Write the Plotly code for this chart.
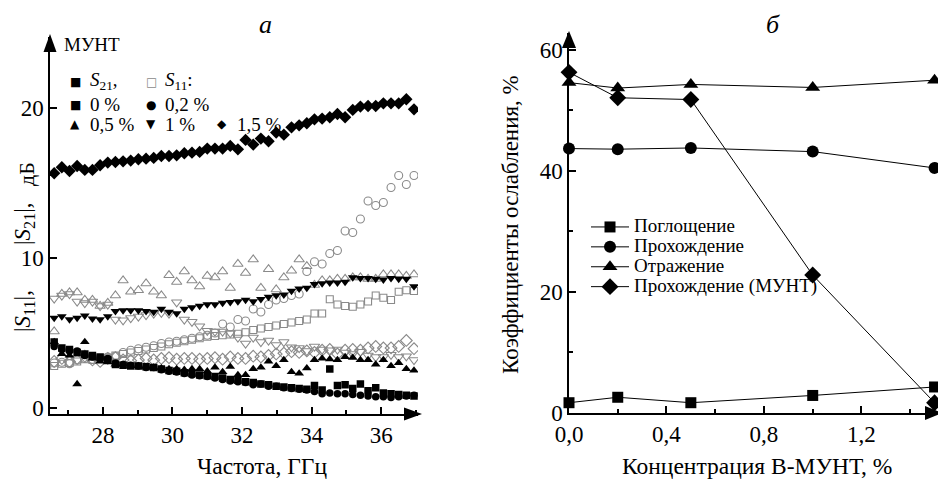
import plotly.graph_objects as go

W, H = 938, 481
FONT = "Liberation Serif"

# ---------------- panel (a): |S11|, |S21| vs frequency ----------------
freq_ghz = [26.60, 26.82, 27.04, 27.26, 27.48, 27.70, 27.92, 28.14, 28.36, 28.58,
            28.80, 29.02, 29.24, 29.46, 29.68, 29.90, 30.12, 30.34, 30.56, 30.78,
            31.00, 31.22, 31.44, 31.66, 31.88, 32.10, 32.32, 32.54, 32.76, 32.98,
            33.20, 33.42, 33.64, 33.86, 34.08, 34.30, 34.52, 34.74, 34.96, 35.18,
            35.40, 35.62, 35.84, 36.06, 36.28, 36.50, 36.72, 36.94]

s21_0 = [4.4, 4.0, 3.9, 3.7, 3.6, 3.5, 3.4, 3.2, 2.9, 2.85,
         2.8, 2.8, 2.75, 2.7, 2.6, 2.5, 2.45, 2.35, 2.3, 2.2,
         2.15, 2.1, 2.0, 1.9, 1.85, 1.75, 1.7, 1.6, 1.55, 1.45,
         1.4, 1.35, 1.3, 1.25, 1.5, 1.2, 2.6, 1.5, 1.55, 1.3,
         1.6, 1.15, 1.35, 1.0, 0.95, 0.9, 0.85, 0.8]
s21_02 = [4.1, 3.9, 3.8, 3.8, 3.5, 3.4, 3.3, 3.3, 3.0, 2.9,
          2.85, 2.8, 2.7, 2.7, 2.55, 2.45, 2.4, 2.3, 2.2, 2.15,
          2.1, 2.0, 1.9, 1.8, 1.75, 1.7, 1.55, 1.6, 1.45, 1.45,
          1.35, 1.3, 1.25, 1.2, 1.1, 0.95, 1.0, 0.95, 0.95, 0.9,
          0.85, 0.8, 0.75, 0.75, 0.7, 0.75, 0.8, 0.85]
s21_05 = [4.4, 3.6, 3.5, 1.6, 4.4, 3.3, 3.1, 3.05, 2.9, 2.9,
          2.8, 2.8, 2.75, 2.7, 2.65, 2.6, 2.6, 2.55, 2.6, 2.6,
          2.45, 2.7, 2.4, 2.75, 2.2, 2.2, 2.6, 2.7, 3.1, 2.8,
          3.2, 2.4, 2.3, 2.65, 3.2, 3.3, 3.25, 3.2, 3.4, 3.35,
          3.2, 3.2, 2.9, 3.2, 2.8, 3.0, 2.6, 2.5]
s21_1 = [6.0, 6.1, 5.9, 6.0, 6.15, 5.95, 5.9, 6.1, 6.45, 6.5,
         6.5, 6.5, 6.45, 6.4, 6.6, 6.4, 6.3, 6.6, 6.7, 6.8,
         6.9, 6.9, 7.0, 7.05, 7.1, 7.2, 7.1, 7.25, 7.4, 7.5,
         7.55, 7.8, 7.95, 8.0, 8.25, 8.3, 8.35, 8.35, 8.4, 8.7,
         8.65, 8.65, 8.6, 8.55, 8.65, 8.6, 8.6, 8.1]
s21_15 = [15.65, 16.05, 15.8, 16.13, 15.87, 15.87, 16.18, 16.36, 16.4, 16.44,
          16.49, 16.58, 16.62, 16.67, 16.8, 16.8, 16.84, 16.98, 17.02, 17.07,
          17.29, 17.29, 17.29, 17.47, 17.24, 17.87, 17.56, 17.96, 17.78, 18.36,
          18.22, 18.71, 18.84, 18.98, 19.24, 19.29, 19.38, 19.6, 19.38, 19.87,
          20.09, 20.13, 20.13, 20.31, 20.31, 20.31, 20.58, 19.91]

s11_0 = [2.8, 2.95, 3.0, 3.1, 3.25, 3.2, 3.3, 3.35, 3.5, 3.6,
         3.7, 3.8, 3.9, 4.0, 4.1, 4.25, 4.35, 4.45, 4.55, 4.65,
         4.75, 4.8, 4.85, 4.9, 4.95, 5.05, 5.2, 5.3, 5.4, 5.5,
         5.6, 5.7, 5.8, 5.9, 6.3, 6.3, 7.25, 6.9, 6.8, 6.75,
         6.9, 7.1, 7.5, 7.35, 7.2, 7.75, 7.85, 7.8]
s11_02 = [3.0, 3.05, 2.95, 3.2, 3.3, 3.25, 3.3, 3.4, 3.45, 3.7,
          3.85, 3.95, 4.05, 4.15, 4.3, 4.4, 4.45, 4.55, 4.65, 4.75,
          4.85, 5.0, 5.6, 5.4, 5.9, 5.8, 6.6, 6.4, 6.9, 7.2,
          7.3, 7.5, 7.6, 9.1, 9.75, 9.6, 10.3, 10.5, 11.8, 11.7,
          12.6, 13.8, 13.5, 13.7, 14.7, 15.5, 14.9, 15.5]
s11_05 = [5.1, 7.6, 7.7, 7.7, 7.2, 7.2, 6.8, 7.0, 7.5, 8.5,
          7.75, 7.85, 8.3, 7.75, 7.5, 8.85, 8.4, 9.1, 8.5, 8.1,
          8.8, 8.7, 9.1, 8.0, 9.6, 9.0, 9.9, 8.0, 9.25, 7.9,
          8.7, 9.15, 9.9, 9.45, 8.2, 8.5, 8.5, 8.6, 8.6, 8.7,
          8.7, 8.6, 8.6, 8.9, 8.9, 8.9, 8.8, 8.9]
s11_1 = [7.3, 7.5, 7.6, 7.1, 7.0, 7.1, 6.8, 6.9, 5.9, 5.85,
         6.0, 6.1, 6.2, 6.3, 6.35, 6.3, 7.05, 5.9, 5.75, 5.45,
         5.15, 5.1, 5.1, 5.0, 4.7, 4.3, 4.7, 4.4, 4.5, 4.2,
         4.4, 4.05, 4.0, 3.8, 4.1, 3.9, 3.85, 3.9, 3.7, 3.6,
         3.75, 3.5, 3.4, 3.4, 3.55, 3.4, 3.45, 3.2]
s11_15 = [3.1, 3.3, 3.1, 3.3, 3.45, 3.2, 3.1, 3.3, 3.35, 3.2,
          3.15, 3.2, 3.3, 3.2, 3.3, 3.35, 3.25, 3.3, 3.3, 3.25,
          3.3, 3.35, 3.25, 3.4, 3.3, 3.3, 3.45, 3.4, 3.5, 3.6,
          3.65, 3.75, 3.7, 3.8, 3.7, 3.85, 3.9, 3.6, 3.85, 3.9,
          3.85, 4.0, 4.1, 4.0, 4.0, 4.1, 4.5, 3.95]

# ---------------- panel (б): attenuation coefficients ----------------
conc_pct = [0.0, 0.2, 0.5, 1.0, 1.5]
absorption = [1.7, 2.6, 1.7, 2.9, 4.3]
transmission = [43.7, 43.6, 43.8, 43.2, 40.5]
reflection = [54.6, 53.7, 54.3, 53.8, 55.0]
transmission_munt = [56.3, 52.1, 51.8, 22.8, 1.7]
right_names = ["Поглощение", "Прохождение", "Отражение", "Прохождение (МУНТ)"]


def PX(x):
    return x / W


def PY(y):
    return 1 - y / H


GRAY = "#8a8a8a"
fig = go.Figure()

open_series = [(s11_0, "square-open", 7), (s11_02, "circle-open", 8),
               (s11_05, "triangle-up-open", 9), (s11_1, "triangle-down-open", 9),
               (s11_15, "diamond-open", 9)]
for ys, sym, sz in open_series:
    fig.add_trace(go.Scatter(x=freq_ghz, y=ys, mode="markers", showlegend=False,
                             marker=dict(symbol=sym, size=sz, color=GRAY,
                                         line=dict(width=1.1, color=GRAY)),
                             xaxis="x", yaxis="y"))

filled_series = [(s21_0, "square", 7.5), (s21_02, "circle", 7.5), (s21_05, "triangle-up", 8.5),
                 (s21_1, "triangle-down", 8.5), (s21_15, "diamond", 9.5)]
for ys, sym, sz in filled_series:
    fig.add_trace(go.Scatter(x=freq_ghz, y=ys, mode="markers", showlegend=False,
                             marker=dict(symbol=sym, size=sz, color="black",
                                         line=dict(width=0)),
                             xaxis="x", yaxis="y"))

right_series = [(absorption, "square", 11), (transmission, "circle", 12),
                (reflection, "triangle-up", 13), (transmission_munt, "diamond", 13)]
for (ys, sym, sz), name in zip(right_series, right_names):
    fig.add_trace(go.Scatter(x=conc_pct, y=ys, mode="lines+markers",
                             name="<span style='font-size:19px'>" + name + "</span>",
                             line=dict(color="black", width=1),
                             marker=dict(symbol=sym, size=sz, color="black"),
                             xaxis="x2", yaxis="y2", cliponaxis=False))

axis_common = dict(showline=True, linecolor="black", linewidth=1.5, ticks="inside",
                   tickcolor="black", tickwidth=1.5, showgrid=False, zeroline=False,
                   automargin=False, tickfont=dict(family=FONT, size=23, color="black"))

fig.update_layout(
    width=W, height=H, margin=dict(l=0, r=0, t=0, b=0),
    paper_bgcolor="white", plot_bgcolor="white", separators=", ",
    font=dict(family=FONT, color="black"),
    xaxis=dict(domain=[PX(50), PX(418)], range=[26.48, 37.055], anchor="y",
               tick0=28, dtick=2, ticklen=7,
               minor=dict(dtick=1, tick0=27, ticks="inside", ticklen=4,
                          tickcolor="black", tickwidth=1.5),
               **axis_common),
    yaxis=dict(domain=[PY(414), PY(37)], range=[-0.4, 24.73], anchor="x",
               tick0=0, dtick=10, ticklen=7, **axis_common),
    xaxis2=dict(domain=[PX(569), PX(937)], range=[0, 1.51], anchor="y2",
                tick0=0, dtick=0.4, tickformat=".1f", ticklen=7,
                minor=dict(dtick=0.2, tick0=0, ticks="inside", ticklen=4,
                           tickcolor="black", tickwidth=1.5),
                **axis_common),
    yaxis2=dict(domain=[PY(413), PY(33)], range=[0, 62.8], anchor="x2",
                tick0=0, dtick=20, ticklen=7,
                minor=dict(dtick=10, tick0=0, ticks="inside", ticklen=4,
                           tickcolor="black", tickwidth=1.5),
                **axis_common),
    legend=dict(x=PX(586), y=PY(212), xanchor="left", yanchor="top",
                bgcolor="rgba(0,0,0,0)", borderwidth=0, itemwidth=38,
                font=dict(family=FONT, size=13, color="black"),
                tracegroupgap=0),
)


def tri(tip, b1, b2):
    return "M {} {} L {} {} L {} {} Z".format(PX(tip[0]), PY(tip[1]), PX(b1[0]), PY(b1[1]),
                                              PX(b2[0]), PY(b2[1]))


arrows = [tri((50, 34), (43.5, 52), (56.5, 52)),
          tri((422, 414), (404, 407.5), (404, 420.5)),
          tri((569, 31), (562, 48), (576, 48)),
          tri((942, 413), (925, 406), (925, 420))]
for p in arrows:
    fig.add_shape(type="path", path=p, xref="paper", yref="paper",
                  fillcolor="black", line=dict(width=0))


def txt(x, y, s, size=20, xanchor="center", angle=0, color="black", family=FONT):
    fig.add_annotation(x=PX(x), y=PY(y), xref="paper", yref="paper", text=s,
                       showarrow=False, xanchor=xanchor, yanchor="middle",
                       textangle=angle, font=dict(family=family, size=size, color=color))


# panel labels
txt(265, 24, "<i>а</i>", size=26)
txt(773, 24, "<i>б</i>", size=26)
# axis titles
txt(262, 466, "Частота, ГГц", size=23.5)
txt(757, 466, "Концентрация В-МУНТ, %", size=23.5)
txt(24, 311, "|<i>S</i><sub>11</sub>|,", size=23, angle=-90)
txt(24, 224, "|<i>S</i><sub>21</sub>|,", size=23, angle=-90)
txt(26, 174, "дБ", size=22, angle=-90)
txt(510, 225, "Коэффициенты ослабления, %", size=23, angle=-90)
txt(62, 44, "МУНТ", size=19, xanchor="left")

# custom legend of panel (a)
SYM = "DejaVu Sans"
txt(75, 82, "■", size=12, family=SYM)
txt(88, 81, "<i>S</i><sub>21</sub>,", size=19, xanchor="left")
txt(151, 82, "□", size=12, family=SYM, color=GRAY)
txt(163, 81, "<i>S</i><sub>11</sub>:", size=19, xanchor="left")
txt(75, 105, "■", size=12, family=SYM)
txt(88, 105, "0 %", size=19, xanchor="left")
txt(151, 105, "●", size=12, family=SYM)
txt(163, 105, "0,2 %", size=19, xanchor="left")
txt(75, 124, "▲", size=12, family=SYM)
txt(88, 124, "0,5 %", size=19, xanchor="left")
txt(151, 124, "▼", size=12, family=SYM)
txt(163, 124, "1 %", size=19, xanchor="left")
txt(222, 124, "◆", size=12, family=SYM)
txt(235, 124, "1,5 %", size=19, xanchor="left")

fig.write_html("out.html", config={"displayModeBar": False},
               post_script="document.body.style.margin='0';")
